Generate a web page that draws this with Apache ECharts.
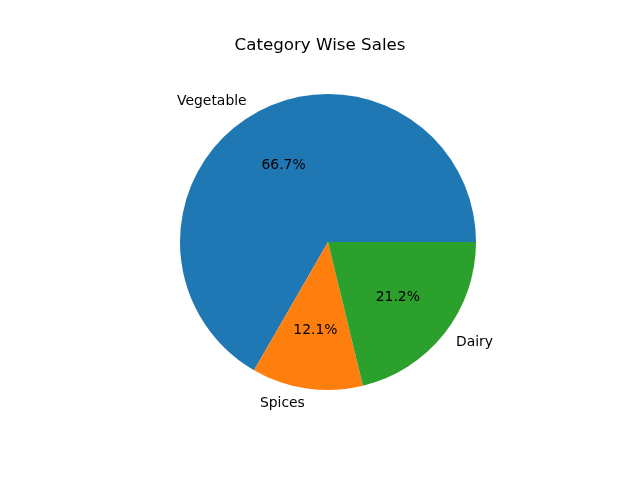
<!DOCTYPE html>
<html style="height: 100%">
    <head>
        <meta charset="utf-8">
    </head>
    <body style="height: 100%; margin: 0; background: #fff;">
        <div id="container" style="width: 640px; height: 480px;"></div>
        <script src="https://cdn.jsdelivr.net/npm/echarts@6/dist/echarts.min.js"></script>
        <script>
        var categories = ['Vegetable', 'Spices', 'Dairy'];
        var sales = [22, 4, 7];
        var colors = ['#1f77b4', '#ff7f0e', '#2ca02c'];

        var _cx = 328;
        var _cy = 242;
        var _r = 148;
        var _font = 'DejaVu Sans';

        var pieData = categories.map(function (name, i) {
            return { name: name, value: sales[i], itemStyle: { color: colors[i] } };
        });
        var pctData = categories.map(function (name, i) {
            return { name: name, value: sales[i] };
        });

        var chart = echarts.init(document.getElementById('container'), null, { renderer: 'canvas' });

        var option = {
            animation: false,
            backgroundColor: '#fff',
            title: {
                text: 'Category Wise Sales',
                left: 'center',
                top: 32,
                textStyle: { fontFamily: _font, fontSize: 16.7, fontWeight: 'normal', color: '#000' }
            },
            series: [{
                // slices + outer category labels
                type: 'pie',
                center: [_cx, _cy],
                radius: [0, _r],
                startAngle: 0,
                clockwise: false,
                avoidLabelOverlap: false,
                silent: true,
                itemStyle: { borderWidth: 0 },
                label: {
                    show: true,
                    position: 'outside',
                    formatter: '{b}',
                    fontFamily: _font,
                    fontSize: 13.9,
                    color: '#000',
                    distanceToLabelLine: 0
                },
                labelLine: { show: false, length: _r * 0.1, length2: 0 },
                emphasis: { disabled: true },
                data: pieData
            }, {
                // invisible ring used only to place the percentage labels
                type: 'pie',
                center: [_cx, _cy],
                radius: [0, _r * 1.16],
                startAngle: 0,
                clockwise: false,
                avoidLabelOverlap: false,
                silent: true,
                itemStyle: { color: 'rgba(0,0,0,0)', borderWidth: 0 },
                label: {
                    show: true,
                    position: 'inside',
                    formatter: function (p) { return p.percent.toFixed(1) + '%'; },
                    fontFamily: _font,
                    fontSize: 13.9,
                    color: '#000'
                },
                labelLine: { show: false },
                emphasis: { disabled: true },
                data: pctData
            }]
        };

        chart.setOption(option);
        </script>
    </body>
</html>
